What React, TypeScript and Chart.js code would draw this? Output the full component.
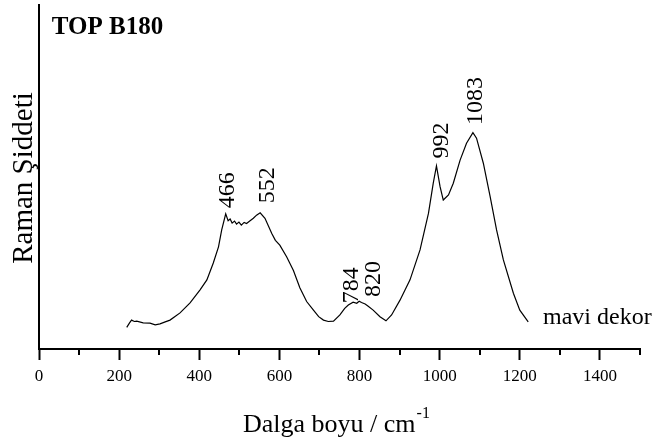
import React, { useEffect, useRef } from "react";
import { Chart, registerables } from "chart.js";

Chart.register(...registerables);

// Spectrum (wavenumber cm-1 -> relative Raman intensity)
const wavenumbers = [219, 226, 231, 238, 244, 260, 277, 290, 302, 315, 327, 352, 377, 402, 419, 435, 448, 456, 466, 472, 477, 482, 488, 493, 499, 505, 512, 518, 526, 535, 543, 552, 564, 581, 590, 601, 618, 635, 651, 668, 685, 698, 710, 722, 735, 751, 763, 772, 784, 793, 799, 805, 814, 820, 834, 851, 866, 880, 901, 926, 951, 972, 984, 992, 1001, 1009, 1022, 1034, 1051, 1067, 1083, 1092, 1109, 1126, 1142, 1159, 1184, 1200, 1221];
const intensity = [6.3, 7.6, 8.4, 8.0, 8.1, 7.6, 7.5, 7.0, 7.3, 7.9, 8.4, 10.5, 13.4, 17.2, 20.1, 25.0, 29.7, 34.6, 39.3, 37.3, 37.8, 36.6, 37.2, 36.3, 36.9, 36.0, 36.8, 36.5, 37.2, 38.0, 38.9, 39.6, 38.0, 33.6, 31.6, 30.2, 26.8, 22.8, 17.8, 13.8, 11.3, 9.4, 8.4, 8.0, 8.1, 9.9, 11.8, 12.8, 13.6, 13.3, 13.9, 13.5, 13.1, 12.6, 11.3, 9.4, 8.2, 9.9, 14.2, 20.1, 28.8, 39.4, 48.2, 53.2, 47.2, 43.3, 44.8, 48.2, 54.9, 59.8, 62.9, 61.3, 54.0, 44.3, 34.6, 25.9, 16.2, 11.3, 7.9];

// Peak annotations: text, anchor wavenumber, anchor intensity (bottom of rotated text)
const peakLabels = ["466", "552", "784", "820", "992", "1083"];
const peakLabelX = [468, 568, 778, 832, 1003, 1087];
const peakLabelY = [40.9, 42.4, 13.3, 15.1, 55.4, 65.1];

// Axis ticks
const majorTicks = [0, 200, 400, 600, 800, 1000, 1200, 1400];
const minorTicks = [100, 300, 500, 700, 900, 1100, 1300, 1500];

const sampleTitle = "TOP B180";
const sampleTitlePos = [32, 91.5];
const seriesName = "mavi dekor";
const seriesNamePos = [1258, 9.0];
const xTitle = "Dalga boyu / cm";
const xTitleSup = "-1";
const yTitle = "Raman Şiddeti";

const FONT = "'Liberation Serif', 'Times New Roman', serif";

const annotPlugin = {
  id: "annot",
  afterDraw(chart: any) {
    const ctx = chart.ctx as CanvasRenderingContext2D;
    const xs = chart.scales.x;
    const ys = chart.scales.y;
    ctx.save();
    ctx.fillStyle = "#000";
    ctx.strokeStyle = "#000";
    // minor ticks
    ctx.lineWidth = 2;
    minorTicks.forEach((v) => {
      const px = Math.round(xs.getPixelForValue(v));
      ctx.beginPath();
      ctx.moveTo(px, xs.top);
      ctx.lineTo(px, xs.top + 6);
      ctx.stroke();
    });
    // peak labels
    ctx.font = `24px ${FONT}`;
    ctx.textAlign = "left";
    ctx.textBaseline = "middle";
    peakLabels.forEach((t, i) => {
      const px = xs.getPixelForValue(peakLabelX[i]);
      const py = ys.getPixelForValue(peakLabelY[i]);
      ctx.save();
      ctx.translate(px, py);
      ctx.rotate(-Math.PI / 2);
      ctx.fillText(t, 0, 1);
      ctx.restore();
    });
    // series name
    ctx.fillText(seriesName, xs.getPixelForValue(seriesNamePos[0]), ys.getPixelForValue(seriesNamePos[1]));
    // sample title
    ctx.font = `bold 25px ${FONT}`;
    ctx.textBaseline = "alphabetic";
    ctx.fillText(sampleTitle, xs.getPixelForValue(sampleTitlePos[0]), ys.getPixelForValue(sampleTitlePos[1]));
    // x title
    ctx.font = `26px ${FONT}`;
    const xt0 = 243;
    const xtBase = 432;
    ctx.fillText(xTitle, xt0, xtBase);
    const w = ctx.measureText(xTitle).width;
    ctx.font = `16px ${FONT}`;
    ctx.fillText(xTitleSup, xt0 + w + 1, xtBase - 14);
    // y title
    ctx.font = `29px ${FONT}`;
    ctx.save();
    ctx.translate(32, 178);
    ctx.rotate(-Math.PI / 2);
    ctx.textAlign = "center";
    ctx.fillText(yTitle, 0, 0);
    ctx.restore();
    ctx.restore();
  },
};

export default function App() {
  const ref = useRef<HTMLCanvasElement | null>(null);
  useEffect(() => {
    if (!ref.current) return;
    const chart = new Chart(ref.current, {
      type: "line",
      data: {
        datasets: [
          {
            label: seriesName,
            data: wavenumbers.map((x, i) => ({ x, y: intensity[i] })),
            borderColor: "#000",
            borderWidth: 1.2,
            pointRadius: 0,
            tension: 0,
            fill: false,
          },
        ],
      },
      options: {
        responsive: false,
        animation: false,
        layout: { padding: { left: 39, right: 15, top: 5, bottom: 0 } },
        plugins: { legend: { display: false }, tooltip: { enabled: false } },
        scales: {
          x: {
            type: "linear",
            min: 0,
            max: 1500,
            afterBuildTicks: (s: any) => {
              s.ticks = majorTicks.map((v) => ({ value: v }));
            },
            afterFit: (s: any) => {
              s.height = 93;
            },
            ticks: {
              color: "#000",
              font: { family: FONT, size: 17 },
              padding: 6,
              maxRotation: 0,
              autoSkip: false,
              callback: (v: any) => String(v),
            },
            grid: {
              display: true,
              drawOnChartArea: false,
              drawTicks: true,
              tickLength: 11,
              tickColor: "#000",
              tickWidth: 2,
            },
            border: { display: true, color: "#000", width: 2 },
          },
          y: {
            type: "linear",
            min: 0,
            max: 100,
            afterFit: (s: any) => {
              s.width = 0;
            },
            ticks: { display: false },
            grid: { display: false },
            border: { display: true, color: "#000", width: 2 },
          },
        },
      },
      plugins: [annotPlugin],
    });
    return () => chart.destroy();
  }, []);
  return (
    <div style={{ position: "absolute", left: 0, top: 0, width: 655, height: 442, background: "#fff" }}>
      <canvas ref={ref} width={655} height={442} style={{ display: "block" }} />
    </div>
  );
}
